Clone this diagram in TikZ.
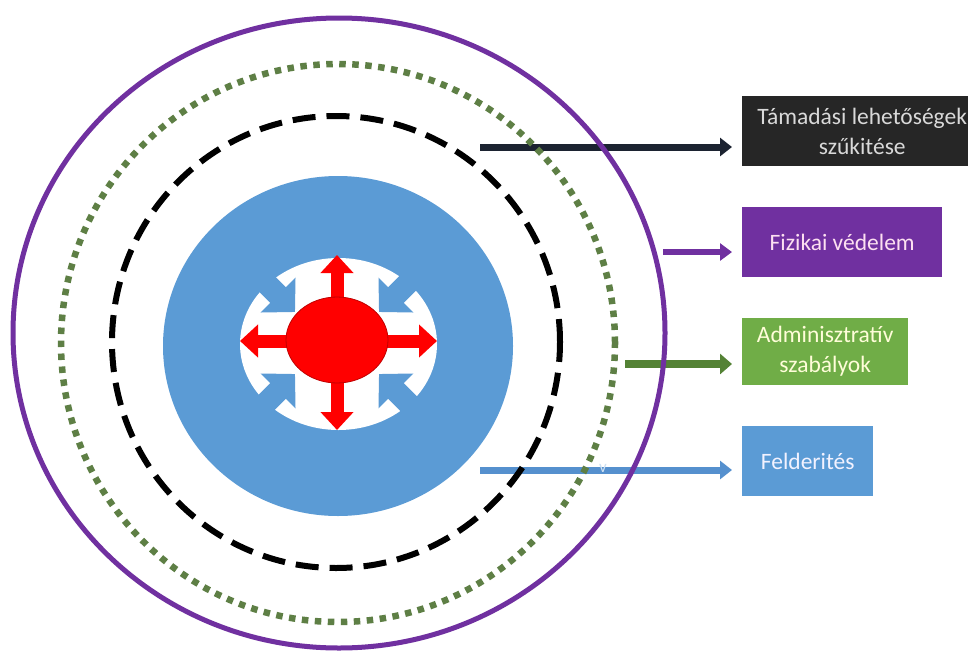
\documentclass[tikz,border=0pt]{standalone}
\usepackage{fontspec}
\setmainfont{Carlito}
\usetikzlibrary{arrows.meta}
\definecolor{ringblue}{HTML}{5B9BD5}
\definecolor{boxblack}{HTML}{262626}
\definecolor{boxpurple}{HTML}{7030A0}
\definecolor{boxgreen}{HTML}{70AD47}
\definecolor{boxblue}{HTML}{5B9BD5}
\definecolor{darkgreen}{HTML}{548235}
\definecolor{dotgreen}{HTML}{5E7F45}
\definecolor{navy}{HTML}{1C2331}
\definecolor{linkblue}{HTML}{5590CE}
\definecolor{redline}{HTML}{C00000}
\tikzset{
  labelbox/.style={anchor=north west, inner sep=0pt, align=center,
    font=\fontsize{23.5}{30}\selectfont},
  conn/.style={shorten >=10pt},
  redarrow/.style={draw=red, line width=13pt,
    {Triangle[length=18pt,width=32pt]}-{Triangle[length=18pt,width=32pt]}},
  bluein/.style={draw=ringblue, line width=22pt, -{Triangle[length=24pt,width=48pt]}}
}
\begin{document}
\begin{tikzpicture}[x=1pt,y=-1pt]
\useasboundingbox (0,0) rectangle (968,653);
\fill[white] (0,0) rectangle (968,653);

% blue ring and inner white area
\fill[ringblue] (338,346) ellipse [x radius=175pt, y radius=170pt];
\fill[white] (338.5,344) ellipse [x radius=98.5pt, y radius=86pt];

% blue inward arrows
\coordinate (tl) at (295,312);
\coordinate (tr) at (379,312);
\coordinate (bl) at (295,374);
\coordinate (br) at (379,374);
\coordinate (otl) at (250,267);
\coordinate (otr) at (424,267);
\coordinate (obl) at (250,419);
\coordinate (obr) at (424,419);
\draw[bluein] (otl) -- (tl);
\draw[bluein] (otr) -- (tr);
\draw[bluein] (obl) -- (bl);
\draw[bluein] (obr) -- (br);

% red arrows and centre
\coordinate (rl) at (240,341);
\coordinate (rr) at (437,341);
\coordinate (rt) at (337,255);
\coordinate (rb) at (337,430);
\draw[redarrow] (rl) -- (rr);
\draw[redarrow] (rt) -- (rb);
\filldraw[fill=red, draw=redline, line width=0.8pt] (337,340) ellipse [x radius=51pt, y radius=43pt];

% boxes
\node[labelbox, fill=boxblack, text=white!85!black, minimum width=240pt, minimum height=70pt] (b1) at (742,96) {Támadási lehetőségek\\szűkitése};
\node[labelbox, fill=boxpurple, text=white!88!magenta, minimum width=200pt, minimum height=70pt] (b2) at (742,207) {Fizikai védelem};
\node[labelbox, fill=boxgreen, text=white!85!yellow, minimum width=166pt, minimum height=67pt] (b3) at (742,318) {Adminisztratív\\szabályok};
\node[labelbox, fill=boxblue, text=white!95!blue, minimum width=131pt, minimum height=70pt] (b4) at (742,426) {Felderités};

% connectors
\coordinate (s1) at (480,147);
\coordinate (s2) at (663,252);
\coordinate (s3) at (625,364);
\coordinate (s4) at (480,470);
\draw[conn, draw=navy, line width=7pt, -{Triangle[length=12pt,width=18pt]}] (s1) -- (s1 -| b1.west);
\draw[conn, draw=boxpurple, line width=6pt, -{Triangle[length=12pt,width=17pt]}] (s2) -- (s2 -| b2.west);
\draw[conn, draw=darkgreen, line width=8pt, -{Triangle[length=12pt,width=20pt]}] (s3) -- (s3 -| b3.west);
\draw[conn, draw=linkblue, line width=7pt, -{Triangle[length=12pt,width=18pt]}] (s4) -- (s4 -| b4.west);

% rings
\draw[black, line width=6pt, dash pattern=on 23pt off 11pt] (336,342) ellipse [x radius=224pt, y radius=226pt];
\draw[dotgreen, line width=6.5pt, dash pattern=on 6.5pt off 6.5pt] (338,343) ellipse [x radius=277pt, y radius=279pt];
\draw[boxpurple, line width=5pt] (339,333) ellipse [x radius=326pt, y radius=315pt];

\node[text=white!70!ringblue, font=\fontsize{17}{17}\selectfont, inner sep=0pt] (v) at (603,468) {v};
\end{tikzpicture}
\end{document}
